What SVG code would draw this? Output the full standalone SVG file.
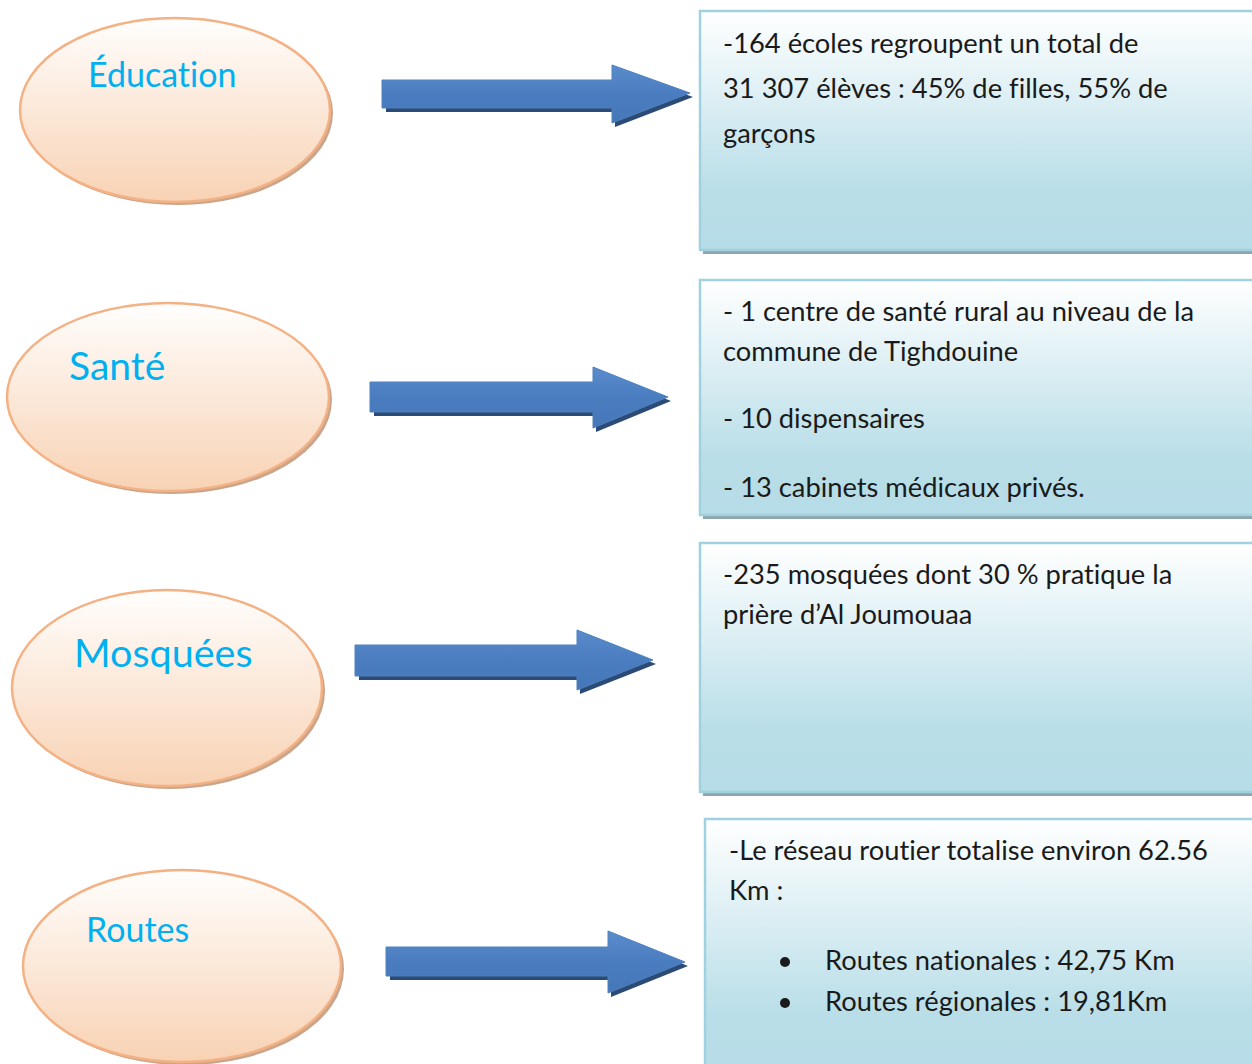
<svg xmlns="http://www.w3.org/2000/svg" width="1252" height="1064" viewBox="0 0 1252 1064">
<defs>
<linearGradient id="gEll" x1="0" y1="0" x2="0" y2="1">
<stop offset="0" stop-color="#fffefd"/>
<stop offset="1" stop-color="#f8d2b4"/>
</linearGradient>
<linearGradient id="gBox" x1="0" y1="0" x2="0" y2="1">
<stop offset="0" stop-color="#ffffff"/>
<stop offset="0.75" stop-color="#b9dee8"/>
<stop offset="1" stop-color="#b6dce7"/>
</linearGradient>
<linearGradient id="gArr" x1="0" y1="0" x2="0" y2="1">
<stop offset="0" stop-color="#5a8ccc"/>
<stop offset="0.5" stop-color="#4a7dc0"/>
<stop offset="1" stop-color="#4577b8"/>
</linearGradient>
</defs>
<style>
text{font-variant-ligatures:none}
.ell{fill:url(#gEll);stroke:#f4b183;stroke-width:2.5}
.esh{fill:#c9a58b}
.lab{font-family:Lato,"Open Sans",sans-serif;fill:#00b0f0}
.box{fill:url(#gBox);stroke:#9fd1e0;stroke-width:2.5}
.bsh{fill:#8fa5ad}
.txt{font-family:Lato,"Open Sans",sans-serif;font-size:27.3px;fill:#1a1a1a}
.arr{fill:url(#gArr);stroke:#4f81bd;stroke-width:1}
.ash{fill:#2b4a75}
</style>
<rect width="1252" height="1064" fill="#ffffff"/>

<g id="node-education">
<ellipse class="esh" cx="178" cy="113" rx="155" ry="92"/>
<ellipse class="ell" cx="175" cy="110" rx="155" ry="92"/>
<text class="lab" x="88" y="87" font-size="34">Éducation</text>
</g>
<g id="node-sante">
<ellipse class="esh" cx="171" cy="400" rx="161" ry="94"/>
<ellipse class="ell" cx="168" cy="397" rx="161" ry="94"/>
<text class="lab" x="69" y="380" font-size="39">Santé</text>
</g>
<g id="node-mosquees">
<ellipse class="esh" cx="170" cy="691" rx="155" ry="98"/>
<ellipse class="ell" cx="167" cy="688" rx="155" ry="98"/>
<text class="lab" x="74" y="667" font-size="39.5">Mosquées</text>
</g>
<g id="node-routes">
<ellipse class="esh" cx="185" cy="969" rx="159" ry="96"/>
<ellipse class="ell" cx="182" cy="966" rx="159" ry="96"/>
<text class="lab" x="86" y="942" font-size="34">Routes</text>
</g>

<g id="connectors">
<path class="ash" d="M386 83 H615 V69 L693 97 L615 127 V112 H386 Z"/>
<path class="arr" d="M382 80 H612 V65 L690 93 L612 123 V108 H382 Z"/>
<path class="ash" d="M374 385 H596 V371 L671 401 L596 432 V416 H374 Z"/>
<path class="arr" d="M370 382 H593 V367 L668 397 L593 428 V412 H370 Z"/>
<path class="ash" d="M359 648 H580 V634 L656 664 L580 694 V680 H359 Z"/>
<path class="arr" d="M355 645 H577 V630 L653 660 L577 690 V676 H355 Z"/>
<path class="ash" d="M390 950 H611 V935 L688 966 L611 997 V980 H390 Z"/>
<path class="arr" d="M386 947 H608 V931 L685 962 L608 993 V976 H386 Z"/>
</g>

<g id="box-education">
<rect class="bsh" x="703" y="14" width="560" height="240"/>
<rect class="box" x="700" y="11" width="560" height="239"/>
<text class="txt" x="723" y="53">-164 écoles regroupent un total de</text>
<text class="txt" x="723" y="98">31 307 élèves : 45% de filles, 55% de</text>
<text class="txt" x="723" y="143">garçons</text>
</g>
<g id="box-sante">
<rect class="bsh" x="703" y="283" width="560" height="236"/>
<rect class="box" x="700" y="280" width="560" height="235"/>
<text class="txt" x="723" y="321">- 1 centre de santé rural au niveau de la</text>
<text class="txt" x="723" y="361">commune de Tighdouine</text>
<text class="txt" x="723" y="428">- 10 dispensaires</text>
<text class="txt" x="723" y="497">- 13 cabinets médicaux privés.</text>
</g>
<g id="box-mosquees">
<rect class="bsh" x="703" y="546" width="560" height="250"/>
<rect class="box" x="700" y="543" width="560" height="249"/>
<text class="txt" x="723" y="584">-235 mosquées dont 30 % pratique la</text>
<text class="txt" x="723" y="624">prière d’Al Joumouaa</text>
</g>
<g id="box-routes">
<rect class="bsh" x="708" y="822" width="560" height="260"/>
<rect class="box" x="705" y="819" width="560" height="260"/>
<text class="txt" x="729" y="860">-Le réseau routier totalise environ 62.56</text>
<text class="txt" x="729" y="900">Km :</text>
<circle cx="785" cy="962" r="5" fill="#1a1a1a"/>
<text class="txt" x="825" y="970">Routes nationales : 42,75 Km</text>
<circle cx="785" cy="1003" r="5" fill="#1a1a1a"/>
<text class="txt" x="825" y="1011">Routes régionales : 19,81Km</text>
</g>
</svg>
